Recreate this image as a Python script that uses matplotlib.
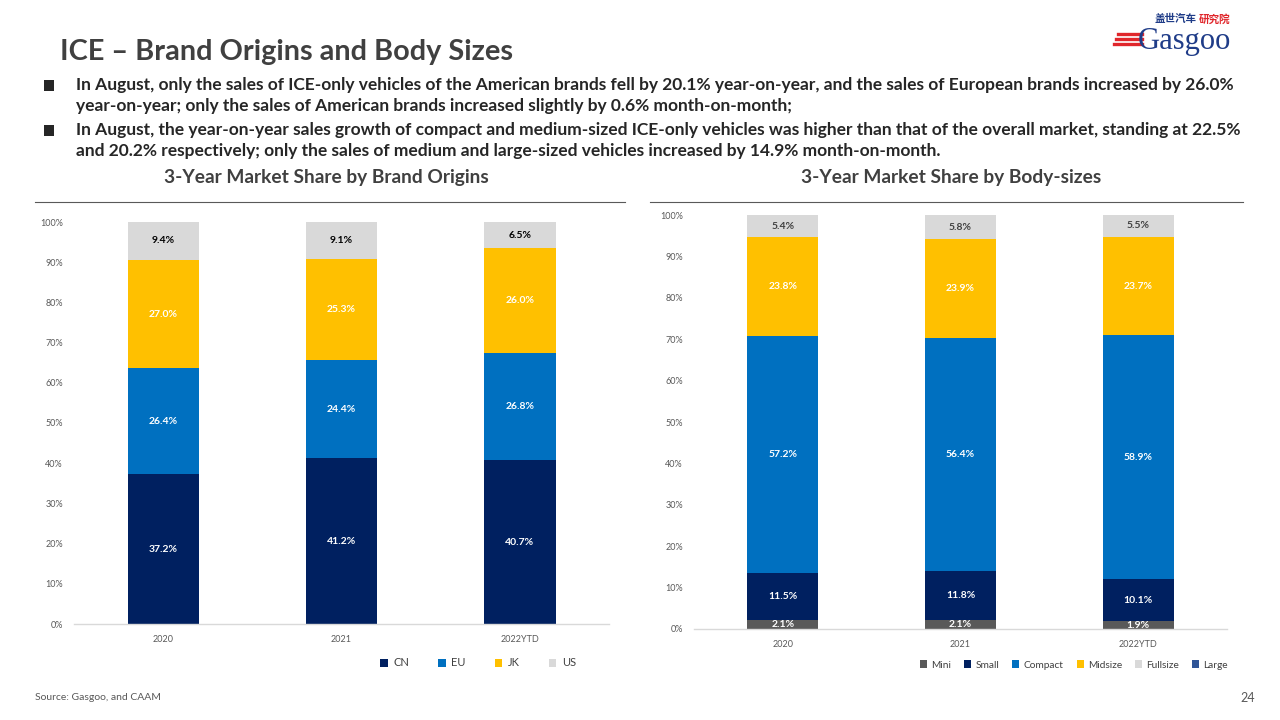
import matplotlib
matplotlib.use("Agg")
import matplotlib.pyplot as plt
from matplotlib.patches import Patch, Rectangle
from matplotlib.lines import Line2D
import numpy as np

plt.rcParams['font.family'] = ['Lato', 'Noto Sans CJK SC', 'DejaVu Sans']

# ---------------- data ----------------
years = ["2020", "2021", "2022YTD"]

origin_labels = ["CN", "EU", "JK", "US"]
cn = [37.2, 41.2, 40.7]
eu = [26.4, 24.4, 26.8]
jk = [27.0, 25.3, 26.0]
us = [9.4, 9.1, 6.5]

size_labels = ["Mini", "Small", "Compact", "Midsize", "Fullsize", "Large"]
mini = [2.1, 2.1, 1.9]
small = [11.5, 11.8, 10.1]
compact = [57.2, 56.4, 58.9]
midsize = [23.8, 23.9, 23.7]
fullsize = [5.4, 5.8, 5.5]
large = [0.0, 0.0, 0.0]

yticks = [0, 10, 20, 30, 40, 50, 60, 70, 80, 90, 100]

title = "ICE \u2013 Brand Origins and Body Sizes"
bullets = [
    ["In August, only the sales of ICE-only vehicles of the American brands fell by 20.1% year-on-year, and the sales of European brands increased by 26.0%",
     "year-on-year; only the sales of American brands increased slightly by 0.6% month-on-month;"],
    ["In August, the year-on-year sales growth of compact and medium-sized ICE-only vehicles was higher than that of the overall market, standing at 22.5%",
     "and 20.2% respectively; only the sales of medium and large-sized vehicles increased by 14.9% month-on-month."],
]
sub_left = "3-Year Market Share by Brand Origins"
sub_right = "3-Year Market Share by Body-sizes"
source = "Source: Gasgoo, and CAAM"
page = "24"

# ---------------- styles ----------------
C_NAVY = "#002060"
C_BLUE = "#0070C0"
C_GOLD = "#FFC000"
C_GRAY = "#D9D9D9"
C_MINI = "#595959"
C_LARGE = "#2F5597"
TXT = "#404040"

W, H = 1280, 720
fig = plt.figure(figsize=(12.8, 7.2), dpi=100)
fig.patch.set_facecolor("white")

def fx(px):
    return px / W

def fy(py):
    return 1 - py / H

# title
fig.text(fx(60), fy(52), title, fontsize=20.8, fontweight="bold", color=TXT, va="center", ha="left")

# bullets
line_y = [[85, 106], [130, 151]]
for b, ys in zip(bullets, line_y):
    fig.patches.append(Rectangle((fx(44), fy(ys[0]) - 0.0085), 0.0078, 0.0155,
                                 transform=fig.transFigure, facecolor="#262626", edgecolor="none"))
    for t, yy in zip(b, ys):
        fig.text(fx(76), fy(yy), t, fontsize=12.5, fontweight="bold", color="#262626", va="center", ha="left")

# subtitles and rule lines
fig.text(fx(326), fy(178), sub_left, fontsize=13.8, fontweight="bold", color=TXT, va="center", ha="center")
fig.text(fx(951), fy(178), sub_right, fontsize=13.8, fontweight="bold", color=TXT, va="center", ha="center")
fig.lines.append(Line2D([fx(35), fx(625)], [fy(202), fy(202)], transform=fig.transFigure, color="#595959", lw=0.8))
fig.lines.append(Line2D([fx(650), fx(1243)], [fy(202), fy(202)], transform=fig.transFigure, color="#595959", lw=0.8))

# logo (text approximation)
fig.text(fx(1155), fy(19), "盖世汽车", fontsize=7.6, color="#1F3C88", fontweight="bold", va="center", ha="left",
         family=['Noto Sans CJK SC'])
fig.text(fx(1199), fy(19), "研究院", fontsize=7.6, color="#E0262B", fontweight="bold", va="center", ha="left",
         family=['Noto Sans CJK SC'])
fig.text(fx(1138), fy(49), "Gasgoo", fontsize=22, color="#1F3C88", va="baseline", ha="left",
         family=['Liberation Serif'])
for i, yy in enumerate([34, 39, 44]):
    fig.lines.append(Line2D([fx(1118 - i * 2), fx(1142)], [fy(yy), fy(yy)], transform=fig.transFigure,
                            color="#E0262B", lw=2.4))

# source and page
fig.text(fx(35), fy(698), source, fontsize=7.5, color="#595959", va="center", ha="left")
fig.text(fx(1255), fy(698), page, fontsize=9, color="#595959", va="center", ha="right")


def stacked(ax, series, colors, label_colors):
    x = np.arange(len(years))
    bottom = np.zeros(len(years))
    for vals, col, lc in zip(series, colors, label_colors):
        v = np.array(vals)
        ax.bar(x, v, 0.4, bottom=bottom, color=col, edgecolor="none")
        for xi, b, vv in zip(x, bottom, v):
            if vv > 0:
                ax.text(xi, b + vv / 2, f"{vv:.1f}%", ha="center", va="center", fontsize=7.5,
                        fontweight="bold", color=lc)
        bottom += v
    ax.set_xlim(-0.5, len(years) - 0.5)
    ax.set_ylim(0, 100)
    ax.set_yticks(yticks)
    ax.set_yticklabels([f"{t}%" for t in yticks])
    ax.set_xticks(x)
    ax.set_xticklabels(years)
    ax.tick_params(length=0, labelsize=6.5, colors="#595959")
    ax.tick_params(axis="x", pad=8)
    ax.tick_params(axis="y", pad=8)
    for s in ["top", "right", "left"]:
        ax.spines[s].set_visible(False)
    ax.spines["bottom"].set_color("#D9D9D9")
    ax.spines["bottom"].set_linewidth(1)


# left chart
axL = fig.add_axes([fx(74), fy(624), fx(609) - fx(74), fy(222) - fy(624)])
stacked(axL, [cn, eu, jk, us], [C_NAVY, C_BLUE, C_GOLD, C_GRAY],
        ["white", "white", "white", "black"])
handlesL = [Patch(facecolor=c, edgecolor="none", label=l) for c, l in
            zip([C_NAVY, C_BLUE, C_GOLD, C_GRAY], origin_labels)]
fig.legend(handles=handlesL, loc="center", bbox_to_anchor=(fx(478), fy(663)), ncol=4, frameon=False,
           fontsize=8, handlelength=0.7, handleheight=0.7, columnspacing=2.6, handletextpad=0.5,
           labelcolor="#404040")

# right chart
axR = fig.add_axes([fx(694), fy(629), fx(1227) - fx(694), fy(215) - fy(629)])
stacked(axR, [mini, small, compact, midsize, fullsize, large],
        [C_MINI, C_NAVY, C_BLUE, C_GOLD, C_GRAY, C_LARGE],
        ["white", "white", "white", "white", "#404040", "white"])
handlesR = [Patch(facecolor=c, edgecolor="none", label=l) for c, l in
            zip([C_MINI, C_NAVY, C_BLUE, C_GOLD, C_GRAY, C_LARGE], size_labels)]
fig.legend(handles=handlesR, loc="center", bbox_to_anchor=(fx(1074), fy(665)), ncol=6, frameon=False,
           fontsize=7.3, handlelength=0.7, handleheight=0.7, columnspacing=1.3, handletextpad=0.4,
           labelcolor="#404040")

fig.savefig("out.png", dpi=100)
